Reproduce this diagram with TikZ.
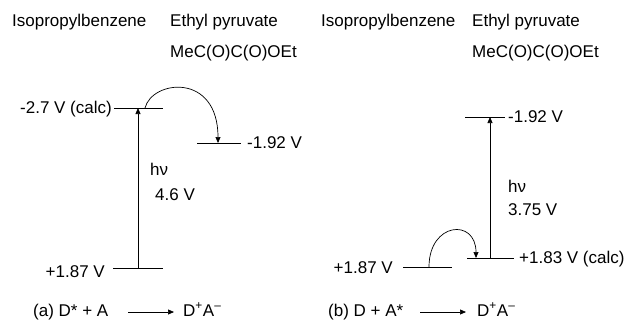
\documentclass[tikz,border=0pt]{standalone}
\usepackage{fontspec}
\setmainfont{Liberation Sans}
\usetikzlibrary{arrows.meta}
\begin{document}
\begin{tikzpicture}[x=1pt,y=-1pt,
  txt/.style={inner sep=0pt,font=\fontsize{17}{19}\selectfont},
  lvl/.style={line width=0.8pt},
  arr/.style={line width=0.7pt,-{Triangle[length=6pt,width=5pt]}}]
\useasboundingbox[fill=white] (0,0) rectangle (634,321);
% ---- left panel ----
\node[txt,anchor=base west] (dl) at (12,27) {Isopropylbenzene};
\node[txt,anchor=base west] (al) at (170,27) {Ethyl pyruvate};
\node[txt,anchor=base west] (fl) at (170,57) {MeC(O)C(O)OEt};
\coordinate (l1a) at (114,108); \coordinate (l1b) at (163,108);
\coordinate (l2a) at (197,143); \coordinate (l2b) at (241,143);
\coordinate (l3a) at (113,268); \coordinate (l3b) at (163,268);
\draw[lvl] (l1a) -- (l1b);
\draw[lvl] (l2a) -- (l2b);
\draw[lvl] (l3a) -- (l3b);
\node[txt,anchor=base east] (l1t) at (112,113) {-2.7 V (calc)};
\node[txt,anchor=base west] (l2t) at (247,148) {-1.92 V};
\node[txt,anchor=base east] (l3t) at (105,277) {+1.87 V};
\coordinate (lv0) at (138,268); \coordinate (lv1) at (138,108);
\draw[arr] (lv0) -- (lv1);
\node[txt,anchor=base west] (lhv) at (150,175) {hν};
\node[txt,anchor=base west] (le) at (155,200) {4.6 V};
\coordinate (lc0) at (145,108); \coordinate (lc1) at (218,143);
\draw[arr] (lc0) .. controls (152,80) and (218,72) .. (lc1);
\node[txt,anchor=base west] (lra) at (33,316) {(a) D* + A};
\node[txt,anchor=base west] (lrb) at (183,316) {D\textsuperscript{+}A\textsuperscript{–}};
\coordinate (la0) at (128,312); \coordinate (la1) at (174,312);
\draw[arr] (la0) -- (la1);
% ---- right panel ----
\node[txt,anchor=base west] (dr) at (321,27) {Isopropylbenzene};
\node[txt,anchor=base west] (ar) at (472,27) {Ethyl pyruvate};
\node[txt,anchor=base west] (fr) at (472,57) {MeC(O)C(O)OEt};
\coordinate (r1a) at (465,117); \coordinate (r1b) at (505,117);
\coordinate (r2a) at (467,258); \coordinate (r2b) at (514,258);
\coordinate (r3a) at (403,267); \coordinate (r3b) at (452,267);
\draw[lvl] (r1a) -- (r1b);
\draw[lvl] (r2a) -- (r2b);
\draw[lvl] (r3a) -- (r3b);
\node[txt,anchor=base west] (r1t) at (508,122) {-1.92 V};
\node[txt,anchor=base west] (r2t) at (519,263) {+1.83 V (calc)};
\node[txt,anchor=base east] (r3t) at (393,273) {+1.87 V};
\coordinate (rv0) at (490,258); \coordinate (rv1) at (490,117);
\draw[arr] (rv0) -- (rv1);
\node[txt,anchor=base west] (rhv) at (508,192) {hν};
\node[txt,anchor=base west] (re) at (508,215) {3.75 V};
\coordinate (rc0) at (429,267); \coordinate (rc1) at (476,258);
\draw[arr] (rc0) .. controls (429,222) and (476,218) .. (rc1);
\node[txt,anchor=base west] (rra) at (328,316) {(b) D + A*};
\node[txt,anchor=base west] (rrb) at (477,316) {D\textsuperscript{+}A\textsuperscript{–}};
\coordinate (ra0) at (420,312); \coordinate (ra1) at (466,312);
\draw[arr] (ra0) -- (ra1);
\end{tikzpicture}
\end{document}
